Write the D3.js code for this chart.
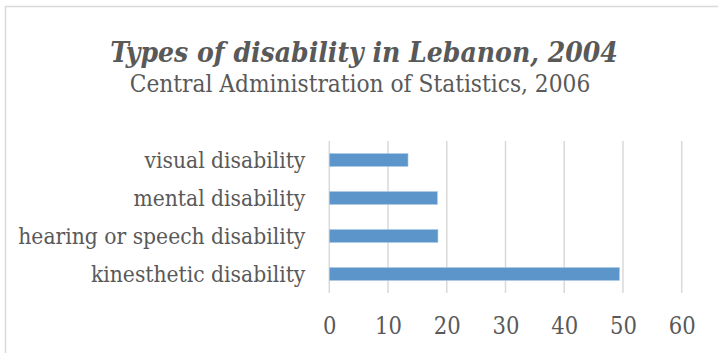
<!DOCTYPE html>
<html>
<head>
<meta charset="utf-8">
<script src="https://cdn.jsdelivr.net/npm/d3@7"></script>
<style>
  body { margin: 0; background: #fff; }
  svg text { fill: #595959; font-family: "DejaVu Serif Condensed", "DejaVu Serif", serif; font-stretch: condensed; }
</style>
</head>
<body>
<div id="chart"></div>
<script>
// data
var categories = ["kinesthetic disability", "hearing or speech disability", "mental disability", "visual disability"];
var values = [49.4, 18.5, 18.4, 13.4];
var xTicks = [0, 10, 20, 30, 40, 50, 60];
var titleText = "Types of disability in Lebanon, 2004";
var subtitleText = "Central Administration of Statistics, 2006";

function drawChart() {
    var width = 718, height = 353;
    var plot = { left: 329.3, right: 681.7, top: 141, bottom: 293 };

    var dataset = categories.map(function (c, i) {
        return { name: c, value: values[i] };
    });

    var svg = d3.select("#chart")
        .append("svg")
        .attr("width", width)
        .attr("height", height);

    // chart area border
    svg.append("rect")
        .attr("x", 5.5)
        .attr("y", 6.5)
        .attr("width", 760)
        .attr("height", 400)
        .attr("fill", "#fff")
        .attr("stroke", "#d9d9d9")
        .attr("stroke-width", 1.5);

    var xScale = d3.scaleLinear()
        .domain([0, 60])
        .range([plot.left, plot.right]);

    var yScale = d3.scaleBand()
        .domain(categories.slice().reverse())
        .range([plot.top, plot.bottom])
        .paddingInner(0.66)
        .paddingOuter(0.33);

    // vertical gridlines
    svg.append("g")
        .selectAll("line")
        .data(xTicks)
        .enter()
        .append("line")
        .attr("x1", function (d) { return xScale(d); })
        .attr("x2", function (d) { return xScale(d); })
        .attr("y1", plot.top)
        .attr("y2", plot.bottom)
        .attr("stroke", "#d9d9d9")
        .attr("stroke-width", 1.5);

    svg.append("g")
        .selectAll("rect")
        .data(dataset)
        .enter()
        .append("rect")
        .attr("x", xScale(0))
        .attr("y", function (d) { return yScale(d.name); })
        .attr("width", function (d) { return xScale(d.value) - xScale(0); })
        .attr("height", yScale.bandwidth())
        .attr("fill", "#5b95ca")
        .attr("stroke", "#a9c7e6")
        .attr("stroke-width", 0.6);

    // x axis, only labels
    var xAxis = svg.append("g")
        .attr("transform", "translate(0," + plot.bottom + ")")
        .call(d3.axisBottom(xScale).tickValues(xTicks).tickSize(0).tickPadding(0));
    xAxis.select(".domain").remove();
    xAxis.selectAll("text")
        .attr("y", 0)
        .attr("dy", 40.5)
        .style("font-size", "23.5px");

    // category labels
    var yAxis = svg.append("g")
        .attr("transform", "translate(" + plot.left + ",0)")
        .call(d3.axisLeft(yScale).tickSize(0).tickPadding(24));
    yAxis.select(".domain").remove();
    yAxis.selectAll("text")
        .attr("dy", "0.35em")
        .style("font-size", "22.6px");

    svg.append("text")
        .attr("x", 364)
        .attr("y", 62)
        .attr("text-anchor", "middle")
        .style("font-size", "28px")
        .style("font-weight", "bold")
        .style("font-style", "italic")
        .text(titleText);

    svg.append("text")
        .attr("x", 360)
        .attr("y", 92)
        .attr("text-anchor", "middle")
        .style("font-size", "24.2px")
        .text(subtitleText);
}

drawChart();
</script>
</body>
</html>
